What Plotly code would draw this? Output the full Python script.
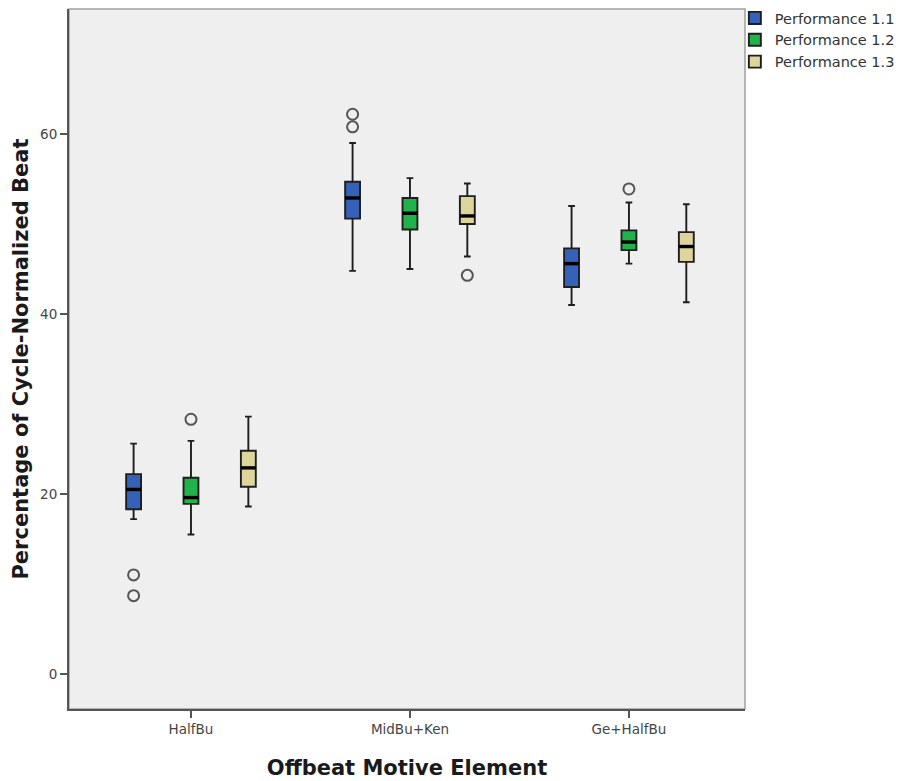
import plotly.graph_objects as go

categories = ["HalfBu", "MidBu+Ken", "Ge+HalfBu"]
series = ["Performance 1.1", "Performance 1.2", "Performance 1.3"]
colors = ["#3562b8", "#22b24c", "#ddd59c"]

# Box statistics per series, one value per category
lower = {
    "Performance 1.1": [17.2, 44.8, 41.0],
    "Performance 1.2": [15.5, 45.0, 45.6],
    "Performance 1.3": [18.6, 46.4, 41.3],
}
q1 = {
    "Performance 1.1": [18.3, 50.6, 43.0],
    "Performance 1.2": [18.9, 49.4, 47.1],
    "Performance 1.3": [20.8, 50.0, 45.8],
}
median = {
    "Performance 1.1": [20.5, 52.9, 45.6],
    "Performance 1.2": [19.6, 51.2, 48.0],
    "Performance 1.3": [22.9, 50.9, 47.5],
}
q3 = {
    "Performance 1.1": [22.2, 54.7, 47.3],
    "Performance 1.2": [21.8, 52.9, 49.3],
    "Performance 1.3": [24.8, 53.1, 49.1],
}
upper = {
    "Performance 1.1": [25.6, 59.0, 52.0],
    "Performance 1.2": [25.9, 55.1, 52.4],
    "Performance 1.3": [28.6, 54.5, 52.2],
}
# outliers: (category index, value)
outliers = {
    "Performance 1.1": [(0, 11.0), (0, 8.7), (1, 62.2), (1, 60.8)],
    "Performance 1.2": [(0, 28.3), (2, 53.9)],
    "Performance 1.3": [(1, 44.3)],
}

offsets = [-0.262, 0.0, 0.262]
box_w = 0.068

fig = go.Figure()
for s, (name, col, off) in enumerate(zip(series, colors, offsets)):
    xs = [i + off for i in range(len(categories))]
    fig.add_trace(go.Box(
        name=name, x=xs,
        q1=q1[name], median=median[name], q3=q3[name],
        lowerfence=lower[name], upperfence=upper[name],
        width=box_w, whiskerwidth=0.45,
        fillcolor=col, line=dict(color="#1e1e1e", width=1.9),
        boxpoints=False, showlegend=True, hoverinfo="skip",
    ))
    # thick median lines
    mx, my = [], []
    for i, m in enumerate(median[name]):
        mx += [xs[i] - box_w / 2, xs[i] + box_w / 2, None]
        my += [m, m, None]
    fig.add_trace(go.Scatter(x=mx, y=my, mode="lines",
                             line=dict(color="#000000", width=3.4),
                             showlegend=False, hoverinfo="skip"))
    ox = [ci + off for ci, v in outliers[name]]
    oy = [v for ci, v in outliers[name]]
    fig.add_trace(go.Scatter(x=ox, y=oy, mode="markers",
                             marker=dict(symbol="circle-open", size=11,
                                         color="#555555", line=dict(width=2, color="#555555")),
                             showlegend=False, hoverinfo="skip"))

fig.update_layout(
    width=908, height=781,
    margin=dict(l=69, r=163, t=9, b=72, autoexpand=False),
    paper_bgcolor="white", plot_bgcolor="#efefef",
    font=dict(family="DejaVu Sans", color="#333333"),
    showlegend=True,
    legend=dict(x=0.985, xanchor="left", y=1.01, yanchor="top",
                font=dict(size=14.5, color="#333333"),
                bgcolor="rgba(0,0,0,0)", tracegroupgap=0, itemwidth=30),
    xaxis=dict(range=[-0.557, 2.53], tickmode="array", tickvals=[0, 1, 2],
               ticktext=categories, showgrid=False, zeroline=False,
               showline=True, linecolor="#555555", linewidth=2,
               ticks="outside", ticklen=7, tickwidth=2, tickcolor="#555555",
               tickfont=dict(size=13.5, color="#444444"),
               title=dict(text="Offbeat Motive Element", standoff=24,
                          font=dict(size=21, color="#1a1a1a", family="DejaVu Sans", weight="bold"))),
    yaxis=dict(range=[-3.9, 73.9], tickvals=[0, 20, 40, 60], showgrid=False,
               zeroline=False, showline=True, linecolor="#555555", linewidth=2,
               ticks="outside", ticklen=7, tickwidth=2, tickcolor="#555555",
               tickfont=dict(size=13.5, color="#444444"),
               title=dict(text="Percentage of Cycle-Normalized Beat", standoff=6,
                          font=dict(size=21, color="#1a1a1a", family="DejaVu Sans", weight="bold"))),
    shapes=[dict(type="rect", xref="paper", yref="paper", x0=0, x1=1, y0=0, y1=1,
                 line=dict(color="#a0a0a0", width=1.5), layer="below")],
)

fig.write_html("out.html", config={"displayModeBar": False},
               post_script="document.body.style.margin='0px';")
